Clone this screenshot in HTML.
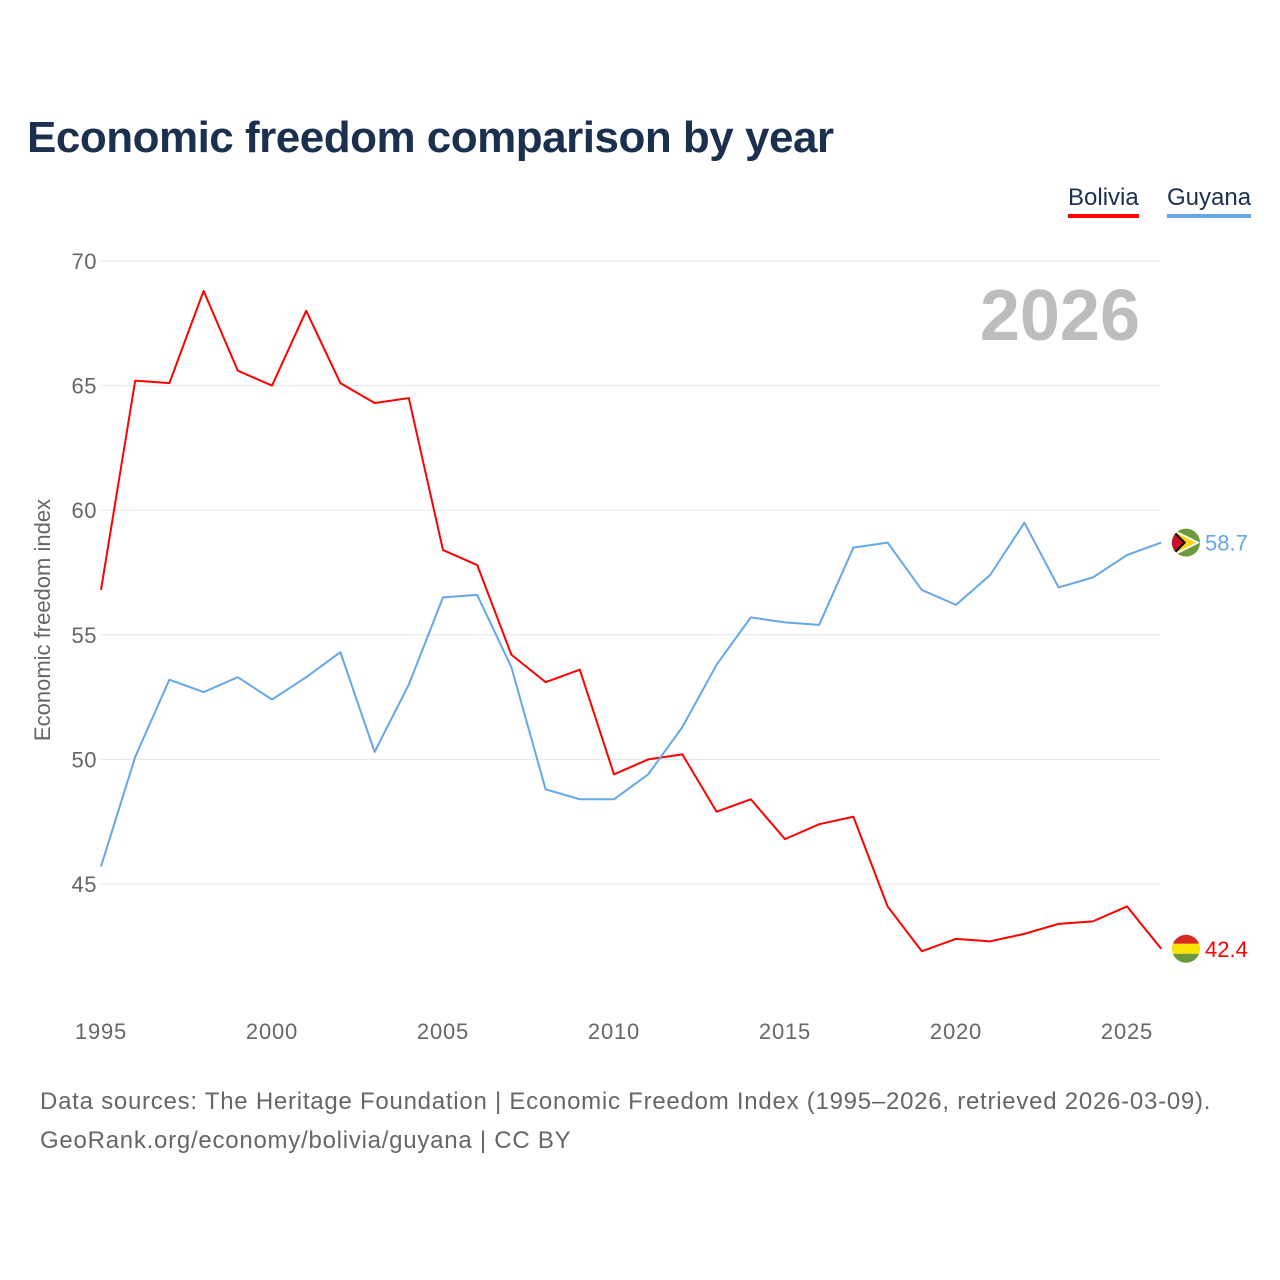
<!DOCTYPE html>
<html><head><meta charset="utf-8"><style>
body{margin:0;background:#fff;font-family:"Liberation Sans",sans-serif;}
#wrap{position:relative;width:1280px;height:1280px;overflow:hidden;}
h1{position:absolute;left:27px;top:113px;margin:0;font-size:44px;font-weight:bold;color:#1b2f4e;letter-spacing:-0.5px;}
.leg{position:absolute;top:184px;font-size:24px;color:#1b2f4e;padding-bottom:2px;}
.src{position:absolute;left:40px;font-size:24px;color:#666;letter-spacing:0.75px;}
</style></head><body>
<div id="wrap">
<h1>Economic freedom comparison by year</h1>
<div class="leg" style="left:1068px;border-bottom:4px solid #f00">Bolivia</div>
<div class="leg" style="left:1167px;border-bottom:4px solid #64a8ea">Guyana</div>
<svg id="chart" width="1280" height="1280" style="position:absolute;left:0;top:0"></svg>
<div class="src" style="top:1088px">Data sources: The Heritage Foundation | Economic Freedom Index (1995–2026, retrieved 2026-03-09).</div>
<div class="src" style="top:1127px">GeoRank.org/economy/bolivia/guyana | CC BY</div>
</div>
<script>
const years=[1995,1996,1997,1998,1999,2000,2001,2002,2003,2004,2005,2006,2007,2008,2009,2010,2011,2012,2013,2014,2015,2016,2017,2018,2019,2020,2021,2022,2023,2024,2025,2026];
const bolivia=[56.8,65.2,65.1,68.8,65.6,65.0,68.0,65.1,64.3,64.5,58.4,57.8,54.2,53.1,53.6,49.4,50.0,50.2,47.9,48.4,46.8,47.4,47.7,44.1,42.3,42.8,42.7,43.0,43.4,43.5,44.1,42.4];
const guyana=[45.7,50.1,53.2,52.7,53.3,52.4,53.3,54.3,50.3,53.0,56.5,56.6,53.7,48.8,48.4,48.4,49.4,51.3,53.8,55.7,55.5,55.4,58.5,58.7,56.8,56.2,57.4,59.5,56.9,57.3,58.2,58.7];
const yTicks=[45,50,55,60,65,70];
const xTicks=[1995,2000,2005,2010,2015,2020,2025];
const NS="http://www.w3.org/2000/svg";
const svg=document.getElementById('chart');
function X(y){return 101+(y-1995)*(1127-101)/30;}
function Y(v){return 261+(70-v)*(884-261)/25;}
function mk(t,a){const e=document.createElementNS(NS,t);for(const k in a)e.setAttribute(k,a[k]);svg.appendChild(e);return e;}
yTicks.forEach(v=>{
 const l=mk('line',{x1:101,x2:1161,y1:Y(v),y2:Y(v),stroke:'#e6e6e6','stroke-width':1});
 
 
 const t=mk('text',{x:97,y:Y(v)+8,'text-anchor':'end','font-size':22,fill:'#666','font-family':'Liberation Sans','letter-spacing':'0.5'});
 t.textContent=v;
 
 
});
xTicks.forEach(v=>{
 const t=mk('text',{x:X(v),y:1039,'text-anchor':'middle','font-size':22,fill:'#666','font-family':'Liberation Sans','letter-spacing':'0.8'});
 t.textContent=v;
 
 
});
const yt=mk('text',{x:0,y:0,transform:'translate(50,620) rotate(-90)','text-anchor':'middle','font-size':22,fill:'#666','font-family':'Liberation Sans'});
yt.textContent='Economic freedom index';


const yr=mk('text',{x:1140,y:340,'text-anchor':'end','font-size':72,'font-weight':'bold',fill:'#bdbdbd','font-family':'Liberation Sans'});
yr.textContent='2026';


function series(vals,col,name){
 const p=mk('polyline',{points:vals.map((v,i)=>X(years[i])+','+Y(v)).join(' '),fill:'none',stroke:col,'stroke-width':2,'stroke-linejoin':'round'});
 
 
 const last=vals[vals.length-1];
 const t=mk('text',{x:1205,y:Y(last)+8,'font-size':22,fill:col,'font-family':'Liberation Sans'});
 t.textContent=last.toFixed(1);
 
 
}
series(bolivia,'#ff0000','bolivia');
series(guyana,'#64a8ea','guyana');
const bl=Y(bolivia[bolivia.length-1]);
const defs=mk('defs',{});
const gy=Y(guyana[guyana.length-1]);
defs.innerHTML='<clipPath id="cb"><circle cx="1186" cy="'+bl+'" r="14"/></clipPath><clipPath id="cg"><circle cx="1186" cy="'+gy+'" r="14"/></clipPath>';
const g=mk('g',{'clip-path':'url(#cb)'});


g.innerHTML='<rect x="1172" y="'+(bl-15)+'" width="28" height="10" fill="#d52b1e"/><rect x="1172" y="'+(bl-5)+'" width="28" height="10" fill="#f9e300"/><rect x="1172" y="'+(bl+5)+'" width="28" height="10" fill="#6a9a3c"/>';
const g2=mk('g',{'clip-path':'url(#cg)'});


g2.innerHTML='<rect x="1172" y="'+(gy-14)+'" width="28" height="28" fill="#6a9a3c"/><polygon points="1172,'+(gy-14)+' 1200,'+gy+' 1172,'+(gy+14)+'" fill="#fff"/><polygon points="1172,'+(gy-12)+' 1196,'+gy+' 1172,'+(gy+12)+'" fill="#fcd116"/><polygon points="1172,'+(gy-14)+' 1186,'+gy+' 1172,'+(gy+14)+'" fill="#000"/><polygon points="1172,'+(gy-11)+' 1183,'+gy+' 1172,'+(gy+11)+'" fill="#ce1126"/>';
</script>
</body></html>
